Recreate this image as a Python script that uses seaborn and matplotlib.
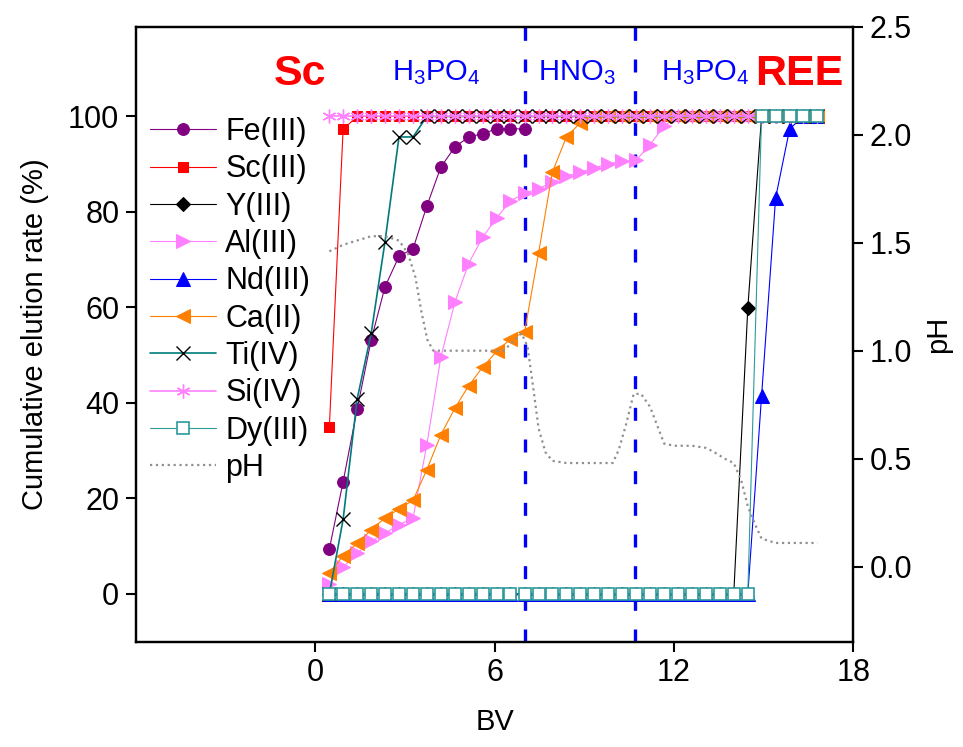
"""
Cumulative elution curves of metals vs bed volume, with pH on a twin axis.
"""

import matplotlib
matplotlib.use('Agg')
import matplotlib.pyplot as plt
import seaborn as sns

# bed volumes of the collected fractions
bv = [0.47, 0.93, 1.40, 1.87, 2.33, 2.80, 3.27, 3.73, 4.20, 4.67, 5.13, 5.60,
      6.07, 6.53, 7.00, 7.47, 7.93, 8.40, 8.87, 9.33, 9.80, 10.27, 10.73, 11.20,
      11.67, 12.13, 12.60, 13.07, 13.53, 14.00, 14.47, 14.93, 15.40, 15.87, 16.33, 16.80]

# cumulative elution rate (%)
fe = [9.4, 23.5, 38.7, 53.2, 64.3, 70.7, 72.3, 81.2, 89.4, 93.6, 95.7, 96.4,
      97.4, 97.4, 97.4]
sc = [35.0, 97.3, 100, 100, 100, 100, 100, 100, 100, 100, 100, 100,
      100, 100, 100, 100, 100, 100, 100, 100, 100, 100, 100, 100,
      100, 100, 100, 100, 100, 100, 100, 100, 100, 100, 100, 100]
y_ = [0, 0, 0, 0, 0, 0, 0, 0, 0, 0, 0, 0,
      0, 0, 0, 0, 0, 0, 0, 0, 0, 0, 0, 0,
      0, 0, 0, 0, 0, 0, 59.9, 100, 100, 100, 100, 100]
al = [2.1, 5.6, 8.5, 11.0, 12.7, 14.5, 15.9, 31.2, 49.6, 61.1, 69.2, 74.7,
      78.8, 82.3, 83.9, 84.9, 86.2, 87.5, 88.3, 89.2, 90.1, 90.6, 90.8, 94.1,
      98.0, 100, 100, 100, 100, 100, 100, 100, 100, 100, 100, 100]
nd = [0, 0, 0, 0, 0, 0, 0, 0, 0, 0, 0, 0,
      0, 0, 0, 0, 0, 0, 0, 0, 0, 0, 0, 0,
      0, 0, 0, 0, 0, 0, 0, 41.4, 82.9, 97.4, 100, 100]
ca = [4.3, 8.0, 10.6, 13.4, 15.9, 17.8, 19.6, 26.0, 33.3, 38.9, 43.6, 47.5,
      50.8, 53.4, 54.8, 71.4, 88.3, 95.7, 98.7, 100, 100, 100, 100, 100,
      100, 100, 100, 100, 100, 100, 100, 100, 100, 100, 100, 100]
ti = [0, 15.6, 40.8, 54.6, 73.7, 95.7, 95.7, 100, 100, 100, 100, 100,
      100, 100, 100, 100, 100, 100, 100, 100, 100, 100, 100, 100,
      100, 100, 100, 100, 100, 100, 100, 100, 100, 100, 100, 100]
si = [100, 100, 100, 100, 100, 100, 100, 100, 100, 100, 100, 100,
      100, 100, 100, 100, 100, 100, 100, 100, 100, 100, 100, 100,
      100, 100, 100, 100, 100, 100, 100, 100, 100, 100, 100, 100]
dy = [0, 0, 0, 0, 0, 0, 0, 0, 0, 0, 0, 0,
      0, 0, 0, 0, 0, 0, 0, 0, 0, 0, 0, 0,
      0, 0, 0, 0, 0, 0, 0, 100, 100, 100, 100, 100]

# pH of the effluent
ph_bv = [0.47, 0.93, 1.40, 1.87, 2.33, 2.80, 3.10, 3.35, 3.55, 3.75, 3.95, 4.67,
         5.60, 6.30, 6.60, 6.90, 7.10, 7.30, 7.47, 7.70, 7.93, 8.40, 9.33, 9.95,
         10.15, 10.40, 10.65, 10.90, 11.20, 11.45, 11.67, 12.00, 12.60, 13.07,
         13.35, 13.70, 14.00, 14.25, 14.47, 14.70, 14.93, 15.40, 16.80]
ph = [1.46, 1.49, 1.51, 1.53, 1.53, 1.51, 1.45, 1.34, 1.18, 1.05, 1.00, 1.00,
      1.00, 1.00, 1.04, 1.08, 1.02, 0.82, 0.64, 0.53, 0.49, 0.48, 0.48, 0.48,
      0.54, 0.66, 0.80, 0.80, 0.74, 0.65, 0.57, 0.56, 0.56, 0.55,
      0.53, 0.50, 0.48, 0.40, 0.28, 0.20, 0.13, 0.11, 0.11]

sns.set_theme(style='ticks', rc={
    'axes.edgecolor': 'black', 'text.color': 'black', 'axes.labelcolor': 'black',
    'xtick.color': 'black', 'ytick.color': 'black',
})
plt.rcParams['font.family'] = ['Liberation Sans', 'DejaVu Sans']
plt.rcParams['mathtext.default'] = 'regular'

fig = plt.figure(figsize=(9.63, 7.47), dpi=100)
ax = fig.add_axes([0.1412, 0.1410, 0.7449, 0.8233])
ax2 = ax.twinx()

series = [
    ('Fe(III)', fe, dict(color='#800080', marker='o', markersize=8.5, mec='#800080', lw=0.8)),
    ('Sc(III)', sc, dict(color='#FF0000', marker='s', markersize=7.5, mec='#FF0000', lw=0.8)),
    ('Y(III)', y_, dict(color='black', marker='D', markersize=7.5, mec='black', lw=0.8)),
    ('Al(III)', al, dict(color='#FF80FF', marker='>', markersize=10, mec='#FF80FF', lw=0.8)),
    ('Nd(III)', nd, dict(color='#0000FF', marker='^', markersize=10, mec='#0000FF', lw=0.8)),
    ('Ca(II)', ca, dict(color='#FF8000', marker='<', markersize=10, mec='#FF8000', lw=0.8)),
    ('Ti(IV)', ti, dict(color='#007B7B', marker='x', markersize=10, mec='black', mew=1.0, lw=1.2)),
    ('Si(IV)', si, dict(color='#FF80FF', marker=(6, 2, 0), markersize=10, mec='#FF80FF', mew=1.0, lw=1.2)),
    ('Dy(III)', dy, dict(color='#2F9A9A', marker='s', markersize=8.5, mec='#2F9A9A', mfc='white', mew=1.2, lw=0.8)),
]

for name, vals, style in series:
    sns.lineplot(x=bv[:len(vals)], y=vals, ax=ax, label=name, sort=False,
                 errorbar=None, **style)

sns.lineplot(x=ph_bv, y=ph, ax=ax2, label='pH', sort=False, errorbar=None,
             color='#909090', ls=':', lw=1.6)

# eluent switch positions
for xpos in [7.0, 10.7]:
    ax.axvline(xpos, color='#0000FF', lw=2.4, ls=(0, (3.9, 5.6)), zorder=1.5)

ax.set_xlim(-6, 18)
ax.set_xticks([0, 6, 12, 18])
ax.set_ylim(-10, 118.8)
ax.set_yticks([0, 20, 40, 60, 80, 100])
ax2.set_ylim(-0.347, 2.5)
ax2.set_yticks([0.0, 0.5, 1.0, 1.5, 2.0, 2.5])
ax2.set_yticklabels(['0.0', '0.5', '1.0', '1.5', '2.0', '2.5'])

ax.set_xlabel('BV', fontsize=21, labelpad=14)
ax.set_ylabel('Cumulative elution rate (%)', fontsize=21, labelpad=14)
ax2.set_ylabel('pH', fontsize=21, labelpad=8)

for a in (ax, ax2):
    for sp in a.spines.values():
        sp.set_linewidth(1.6)
    a.tick_params(direction='out', length=7, width=1.5, labelsize=22, pad=5)
ax.tick_params(axis='x', top=False)

# region labels
ax.text(-0.5, 106.5, 'Sc', color='#FF0000', fontsize=31, fontweight='bold',
        ha='center', va='baseline')
ax.text(16.2, 106.5, 'REE', color='#FF0000', fontsize=31, fontweight='bold',
        ha='center', va='baseline')
ax.text(4.05, 107.5, 'H$_3$PO$_4$', color='#0000FF', fontsize=21, ha='center', va='baseline')
ax.text(8.75, 107.5, 'HNO$_3$', color='#0000FF', fontsize=21, ha='center', va='baseline')
ax.text(13.05, 107.5, 'H$_3$PO$_4$', color='#0000FF', fontsize=21, ha='center', va='baseline')

for a in (ax, ax2):
    if a.get_legend() is not None:
        a.get_legend().remove()
h1, l1 = ax.get_legend_handles_labels()
h2, l2 = ax2.get_legend_handles_labels()
ax2.legend(h1 + h2, l1 + l2, loc='upper left', bbox_to_anchor=(0.02, 0.853),
           frameon=False, fontsize=22, handlelength=2.15, handletextpad=0.3,
           labelspacing=0.24, borderpad=0, borderaxespad=0, numpoints=1)

fig.savefig('out.png', dpi=100)
